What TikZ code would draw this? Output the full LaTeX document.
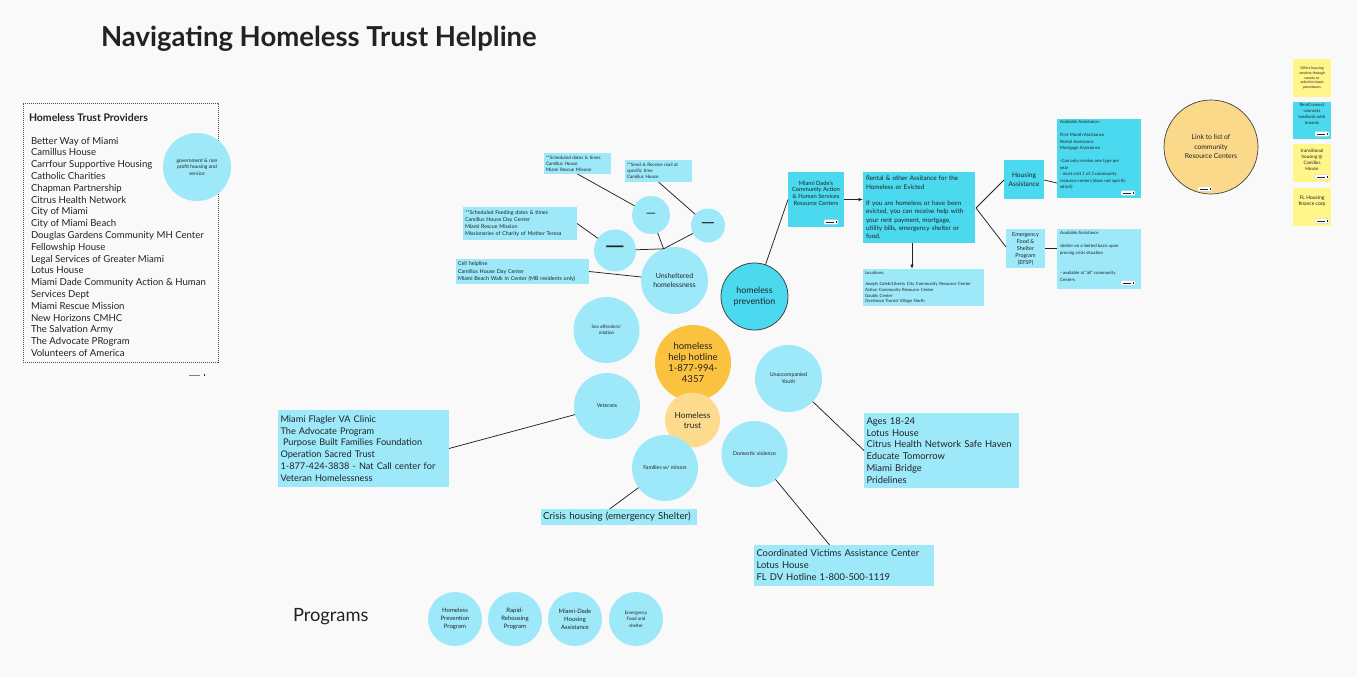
\documentclass[tikz,border=0pt]{standalone}
\usepackage{fontspec}
\setmainfont{Lato}
\usetikzlibrary{calc,arrows.meta}
\definecolor{bg}{HTML}{F9F9F9}
\definecolor{lb}{HTML}{9DE9FA}
\definecolor{db}{HTML}{4BD9EF}
\definecolor{orng}{HTML}{FBC23F}
\definecolor{lorng}{HTML}{FCDB8E}
\definecolor{yel}{HTML}{FFF589}
\definecolor{gold}{HTML}{FAD98A}
\definecolor{ink}{HTML}{222222}
\newcommand\fs[2]{\fontsize{#1}{#2}\selectfont}
\newcommand\hmark[2]{%
  \filldraw[fill=white,draw=gray!50,line width=0.3pt,rounded corners=0.8pt] (#1-7,#2-2.3) rectangle (#1+7,#2+2.3);
  \draw[line width=0.6pt,ink] (#1-5,#2) -- (#1+3,#2);
  \fill[ink] (#1+4.6,#2-1.1) rectangle (#1+5.5,#2+1.1);}
\begin{document}
\begin{tikzpicture}[x=1pt,y=-1pt,
  every node/.style={text=ink, inner sep=0pt, outer sep=0pt},
  circ/.style={circle, fill=lb, align=center},
  bx/.style={rectangle, anchor=north west, align=left},
  txt/.style={anchor=north west, align=left},
  con/.style={draw=ink, line width=0.75pt},
  arr/.style={con, -{Latex[length=4.5pt,width=3.5pt]}},
]
\fill[bg] (0,0) rectangle (1357,677);
\useasboundingbox (0,0) rectangle (1357,677);

% title
\node[anchor=west, font=\bfseries\fs{27.5}{32}] (title) at (101,39) {Navigating Homeless Trust Helpline};

% providers
\node[bx, draw=ink!80, dash pattern=on 1.2pt off 0.8pt, line width=0.6pt, minimum width=195pt, minimum height=259pt] (prov) at (23,103) {};
\node[anchor=west, font=\bfseries\fs{10.5}{12}] (provtitle) at (29,118) {Homeless Trust Providers};
\node[txt, font=\fs{9.6}{11.8}] (provlist) at (31,137) {Better Way of Miami\\Camillus House\\Carrfour Supportive Housing\\Catholic Charities\\Chapman Partnership\\Citrus Health Network\\City of Miami\\City of Miami Beach\\Douglas Gardens Community MH Center\\Fellowship House\\Legal Services of Greater Miami\\Lotus House\\Miami Dade Community Action \& Human\\Services Dept\\Miami Rescue Mission\\New Horizons CMHC\\The Salvation Army\\The Advocate PRogram\\Volunteers of America};
\node[circ, minimum size=68pt, font=\fs{5}{6.5}] (gov) at (197,167) {government \& non\\profit housing and\\service};
\draw[line width=1pt, gray] (189,375) -- (200,375);
\fill[ink] (203.5,373.8) rectangle (204.3,376.2);

% notes top
\node[bx, fill=lb, minimum width=67pt, minimum height=21pt, text width=63pt, inner sep=2pt, font=\fs{4.6}{6}] (note1) at (544,153) {**Scheduled dates \& times\\Camillus House\\Miami Rescue Mission};
\node[bx, fill=lb, minimum width=67pt, minimum height=22pt, text width=63pt, inner sep=2pt, font=\fs{4.6}{6}] (note2) at (625,160) {**Send \& Receive mail at\\specific time\\Camillus House};
\node[bx, fill=lb, minimum width=114pt, minimum height=33pt, text width=110pt, inner sep=2pt, font=\fs{5.3}{7.3}] (note3) at (463,207) {**Scheduled Feeding dates \& times\\Camillus House Day Center\\Miami Rescue Mission\\Missionaries of Charity of Mother Teresa};
\node[bx, fill=lb, minimum width=133pt, minimum height=25pt, text width=129pt, inner sep=2pt, font=\fs{5.4}{7.6}] (note4) at (456,259) {Cell helpline\\Camillus House Day Center\\Miami Beach Walk in Center (MB residents only)};

% circles
\node[circ, minimum size=38pt, font=\fs{13}{13}] (cA) at (651,215) {—};
\node[circ, minimum size=34pt, font=\fs{18}{18}] (cC) at (708,225.5) {—};
\node[circ, minimum size=42pt, font=\fs{26}{26}] (cB) at (615,250.5) {—};
\node[circ, minimum size=67pt, font=\fs{7}{9.5}] (unsh) at (674.5,280.5) {Unsheltered\\homelessness};
\node[circ, fill=db, draw=ink!85, line width=0.8pt, minimum size=67pt, font=\fs{8.8}{11}] (prev) at (754.5,296.5) {homeless\\prevention};
\node[circ, minimum size=66pt, font=\fs{4.6}{6}] (sex) at (606.5,330) {Sex offenders/\\relation};
\node[circ, minimum size=66pt, font=\fs{5.3}{7}] (vet) at (607,406) {Veterans};
\node[circ, fill=orng, minimum size=76pt, font=\fs{9.5}{11}] (hot) at (693,363) {homeless\\help hotline\\1-877-994-\\4357};
\node[circ, fill=lorng, minimum size=55pt, font=\fs{8.3}{10}] (trust) at (692.5,420) {Homeless\\trust};
\node[circ, minimum size=66pt, font=\fs{5.3}{7}] (fam) at (665,468) {Families w/ minors};
\node[circ, minimum size=66pt, font=\fs{5.3}{7}] (dom) at (754.5,454) {Domestic violence};
\node[circ, minimum size=67pt, font=\fs{5.3}{7}] (unacc) at (788.5,378.5) {Unaccompanied\\Youth};

\coordinate (J) at (unsh.109);
\draw[con] (note1.south) -- (cA);
\draw[con] (note2.south) -- (cC);
\draw[con] (note3.east) -- (cB);
\draw[con] (note4.east) -- (unsh);
\draw[con] (cA) -- (J);
\draw[con] (cB) -- (J);
\draw[con] (cC) -- (J);

% Miami Dade chain
\node[bx, fill=db, minimum width=56pt, minimum height=55pt] (miami) at (788,172) {};
\node[align=center, font=\fs{5.8}{6.6}] (miamitxt) at (816,193) {Miami Dade's\\Community Action\\\& Human Services\\Resource Centers};
\hmark{831}{222}
\draw[con] (prev) -- (miami.west);
\node[bx, fill=db, minimum width=112pt, minimum height=71pt, text width=106pt, inner sep=3pt, font=\fs{6.4}{8.3}] (rental) at (863,172) {Rental \& other Assitance for the\\Homeless or Evicted\\[8.3pt]If you are homeless or have been\\evicted, you can receive help with\\your rent payment, mortgage,\\utility bills, emergency shelter or\\food.};
\draw[arr] (miami.east) -- (rental.west |- miami.east);
\node[bx, fill=lb, minimum width=121pt, minimum height=37pt, text width=117pt, inner sep=2pt, font=\fs{4.3}{5.7}] (loc) at (863,269) {Locations:\\[5.7pt]Joseph Caleb/Liberty City Community Resource Center\\Action Community Resource Center\\Goulds Center\\Overtown Transit Village North};
\draw[arr] (912,243) -- (912,269);

\node[bx, fill=db, minimum width=40pt, minimum height=39pt] (house) at (1004,160) {};
\node[align=center, font=\fs{6.6}{8.5}] at (house.center) {Housing\\Assistance};
\node[bx, fill=lb, minimum width=39pt, minimum height=39pt] (efsp) at (1006,229) {};
\node[align=center, font=\fs{5.5}{7}] at (efsp.center) {Emergency\\Food \&\\Shelter\\Program\\(EFSP)};
\coordinate (V) at (976,208);
\draw[con] (V) -- (1004,180);
\draw[con] (V) -- (1006,247);

\node[bx, fill=db, minimum width=84pt, minimum height=79pt] (av1) at (1057,119) {};
\node[txt, font=\fs{4.4}{6.5}] (av1txt) at (1060,120.5) {Available Assistance:\\[6.5pt]First Month Assistance\\Rental Assistance\\Mortgage Assistance\\[6.5pt]-Can only receive one type per\\year\\- must visit 1 of 3 community\\resource centers (does not specify\\which)};
\hmark{1128}{193}
\draw[con] (house.east |- 0,180) -- (av1.west |- 0,183);
\node[bx, fill=lb, minimum width=84pt, minimum height=60pt] (av2) at (1057,229) {};
\node[txt, font=\fs{4.4}{6.7}] (av2txt) at (1060,231.5) {Available Assistance\\[6.5pt]shelter on a limited basis upon\\proving crisis situation\\[13pt]- available at ``all'' community\\Centers};
\hmark{1128}{283}
\draw[con] (efsp.east |- 0,248) -- (av2.west |- 0,248);

% link circle
\node[circle, fill=gold, draw=ink!85, line width=0.7pt, minimum size=94pt, align=center, font=\fs{6.8}{9.5}] (link) at (1211,147) {Link to list of\\community\\Resource Centers};
\hmark{1205}{189}

% stickies
\node[bx, fill=yel, minimum width=38pt, minimum height=38pt] (s1) at (1293,59) {};
\node[align=center, font=\fs{3.6}{4.8}] at (s1.center) {Offers housing\\vendors through\\county or\\selection input\\procedures};
\node[bx, fill=db, minimum width=38pt, minimum height=37pt] (s2) at (1293,102) {};
\node[align=center, font=\fs{4.3}{5.8}] at (1312,114) {RentConnect\\connects\\landlords with\\tenants};
\hmark{1322}{134}
\node[bx, fill=yel, minimum width=38pt, minimum height=38pt] (s3) at (1293,144) {};
\node[align=center, font=\fs{4.6}{6}] at (1312,160) {transitional\\housing @\\Camillus\\House};
\hmark{1322}{177}
\node[bx, fill=yel, minimum width=38pt, minimum height=38pt] (s4) at (1293,188) {};
\node[align=center, font=\fs{5}{6.5}] at (1312,201) {FL Housing\\finance corp};
\hmark{1322}{221}

% large boxes
\node[bx, fill=lb, minimum width=171pt, minimum height=77pt, text width=166pt, inner sep=2.5pt, font=\fs{9.2}{11.8}] (vetbox) at (278,410) {Miami Flagler VA Clinic\\The Advocate Program\\\hspace*{2.5pt}Purpose Built Families Foundation\\Operation Sacred Trust\\1-877-424-3838 - Nat Call center for\\Veteran Homelessness};
\draw[con] (vetbox.east) -- (vet);
\node[bx, fill=lb, minimum width=155pt, minimum height=75pt, text width=150pt, inner sep=2.5pt, font=\fs{9.4}{11.8}] (ages) at (864,413) {Ages 18-24\\Lotus House\\Citrus Health Network Safe Haven\\Educate Tomorrow\\Miami Bridge\\Pridelines};
\draw[con] (unacc) -- (ages.west);
\node[bx, fill=lb, minimum width=180pt, minimum height=41pt, text width=175pt, inner sep=2.5pt, font=\fs{9.4}{12}] (coord) at (754,545) {Coordinated Victims Assistance Center\\Lotus House\\FL DV Hotline 1-800-500-1119};
\draw[con] (dom) -- ($(coord.north west)!0.42!(coord.north east)$);
\node[bx, fill=lb, minimum width=156pt, minimum height=16pt, text width=152pt, inner sep=2pt, font=\fs{9.7}{11}] (crisis) at (541,509) {Crisis housing (emergency Shelter)};
\draw[con] (fam) -- ($(crisis.north west)!0.44!(crisis.north east)$);

% programs
\node[anchor=west, font=\fs{18.3}{21}] (prog) at (293,617) {Programs};
\node[circ, minimum size=54pt, font=\fs{6}{8}] (p1) at (455,619) {Homeless\\Prevention\\Program};
\node[circ, minimum size=54pt, font=\fs{6}{8}] (p2) at (515,619) {Rapid-\\Rehousing\\Program};
\node[circ, minimum size=54pt, font=\fs{6}{8}] (p3) at (575,619) {Miami-Dade\\Housing\\Assistance};
\node[circ, minimum size=54pt, font=\fs{4.6}{6.5}] (p4) at (636,619) {Emergency\\Food and\\shelter};
\end{tikzpicture}
\end{document}
